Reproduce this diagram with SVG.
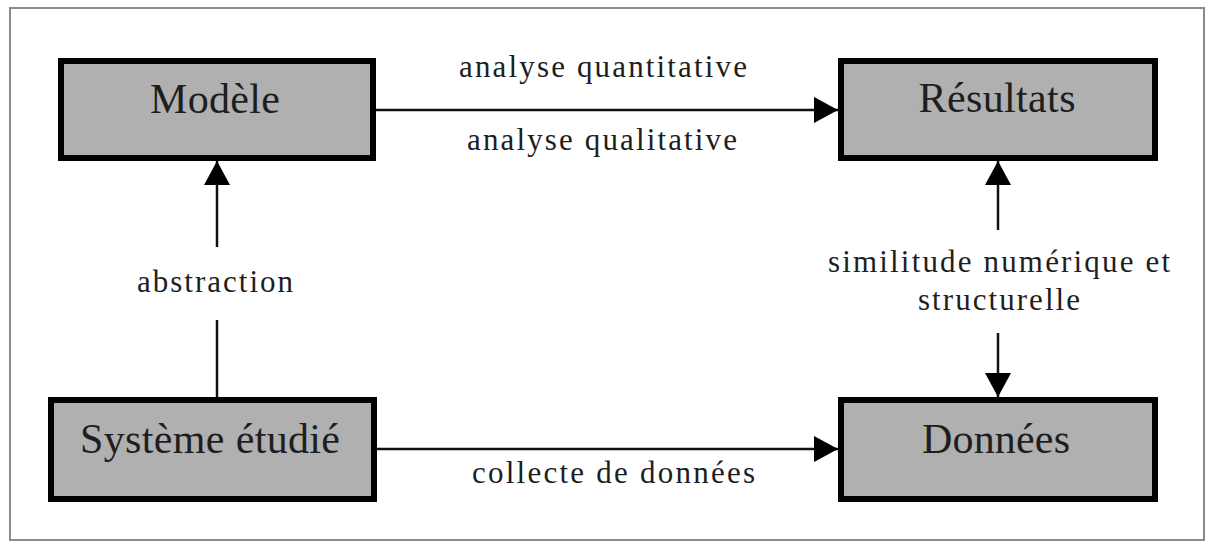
<svg xmlns="http://www.w3.org/2000/svg" width="1207" height="542" viewBox="0 0 1207 542">
  <style>
    .frame { fill: none; stroke: #8a8a8a; stroke-width: 2; }
    .box { fill: #b0b0b0; stroke: #000; stroke-width: 6; }
    .box-text { font-family: "Liberation Serif", "Times New Roman", serif; font-size: 42px; fill: #1e1e1e; text-anchor: middle; }
    .label { font-family: "Liberation Serif", "Times New Roman", serif; font-size: 31px; fill: #1e1e1e; }
    .link { stroke: #111; stroke-width: 2.5; fill: none; }
  </style>
  <defs>
    <marker id="arrow" viewBox="0 0 24 26" refX="24" refY="13" markerWidth="24" markerHeight="26" markerUnits="userSpaceOnUse" orient="auto">
      <path d="M0,0 L24,13 L0,26 Z" fill="#000"/>
    </marker>
  </defs>

  <rect width="1207" height="542" fill="#fff"/>
  <rect class="frame" x="10" y="8" width="1194" height="532"/>

  <g id="connectors">
    <line class="link" x1="376" y1="110" x2="838" y2="110" marker-end="url(#arrow)"/>
    <line class="link" x1="377" y1="449" x2="838" y2="449" marker-end="url(#arrow)"/>
    <line class="link" x1="217" y1="397" x2="217" y2="320"/>
    <line class="link" x1="217" y1="247" x2="217" y2="161" marker-end="url(#arrow)"/>
    <line class="link" x1="998" y1="230" x2="998" y2="161" marker-end="url(#arrow)"/>
    <line class="link" x1="998" y1="333" x2="998" y2="397" marker-end="url(#arrow)"/>
    <text class="label" x="459" y="77" textLength="288" lengthAdjust="spacing">analyse quantitative</text>
    <text class="label" x="467" y="150" textLength="270" lengthAdjust="spacing">analyse qualitative</text>
    <text class="label" x="137" y="292" textLength="156" lengthAdjust="spacing">abstraction</text>
    <text class="label" x="828" y="272" textLength="342" lengthAdjust="spacing">similitude numérique et</text>
    <text class="label" x="918" y="310" textLength="162" lengthAdjust="spacing">structurelle</text>
    <text class="label" x="472" y="483" textLength="283" lengthAdjust="spacing">collecte de données</text>
  </g>

  <g id="modele">
    <rect class="box" x="61" y="61" width="312" height="97"/>
    <text class="box-text" x="215" y="113" textLength="130" lengthAdjust="spacing">Modèle</text>
  </g>
  <g id="resultats">
    <rect class="box" x="841" y="61" width="314" height="97"/>
    <text class="box-text" x="997" y="112" textLength="157" lengthAdjust="spacing">Résultats</text>
  </g>
  <g id="systeme">
    <rect class="box" x="51" y="400" width="323" height="99"/>
    <text class="box-text" x="210" y="453" textLength="260" lengthAdjust="spacing">Système étudié</text>
  </g>
  <g id="donnees">
    <rect class="box" x="841" y="400" width="314" height="99"/>
    <text class="box-text" x="996" y="453" textLength="148" lengthAdjust="spacing">Données</text>
  </g>
</svg>
